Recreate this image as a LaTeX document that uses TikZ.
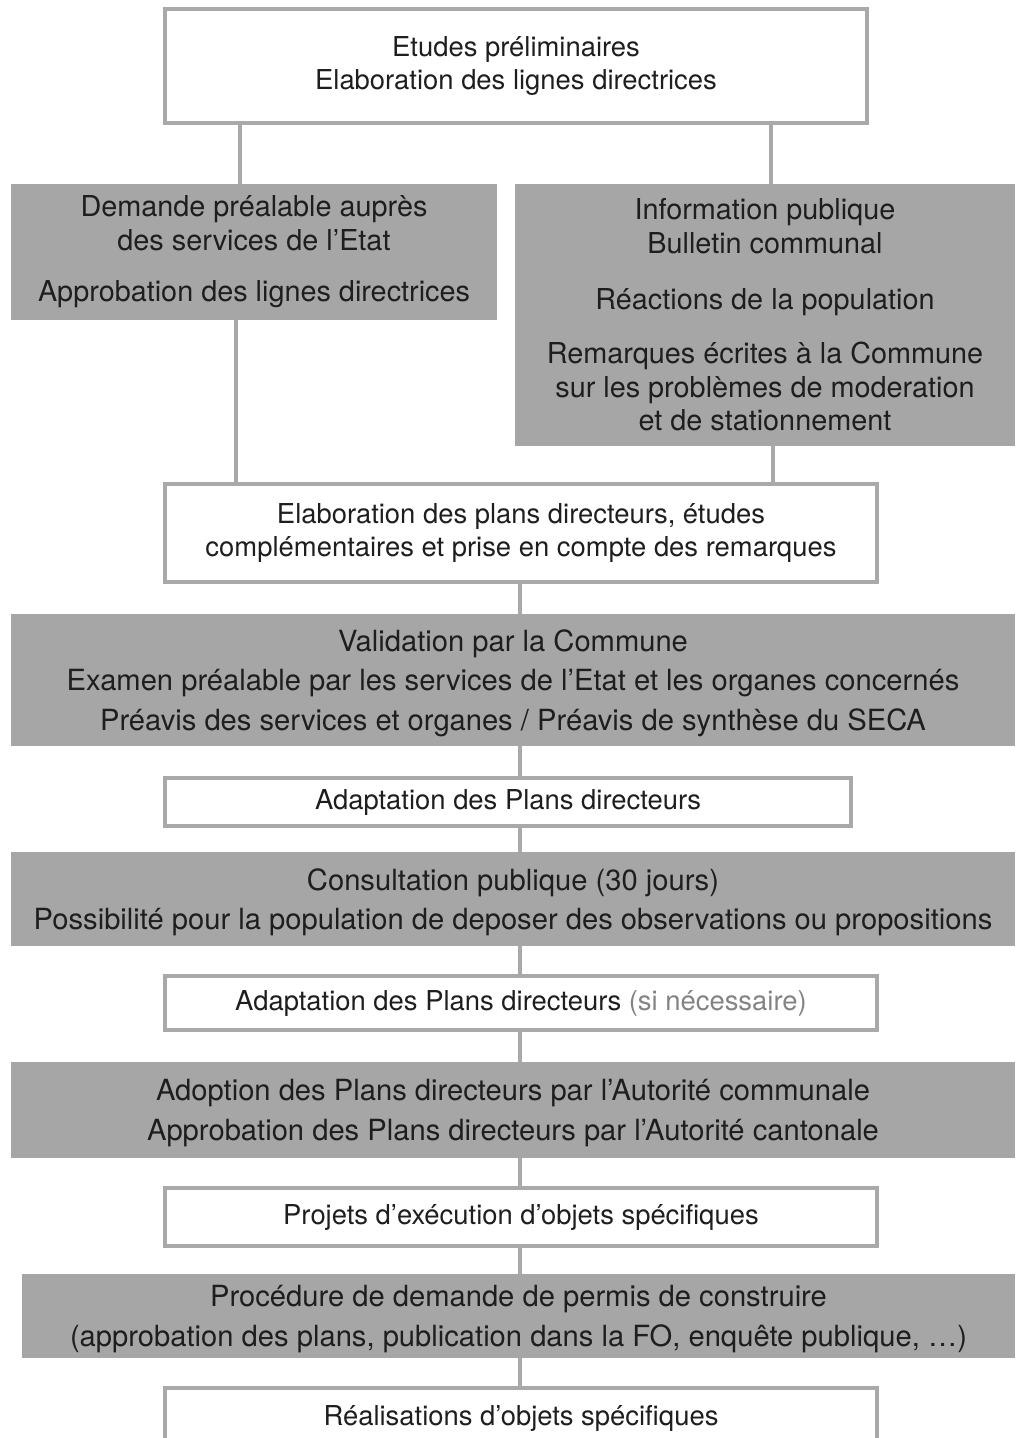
\documentclass[tikz,border=0pt]{standalone}
\usepackage{fontspec}
\setmainfont{TeX Gyre Heros}
\definecolor{boxgray}{HTML}{A6A6A6}
\definecolor{linegray}{HTML}{A9A9A9}
\definecolor{txt}{HTML}{1E1E1E}
\tikzset{
  whitebox/.style={draw=linegray, line width=0.08cm, fill=white, text=txt, align=center, inner sep=0pt, font=\fontsize{15.6}{19}\selectfont},
  graybox/.style={fill=boxgray, text=txt, align=center, inner sep=0pt, font=\fontsize{16.4}{19}\selectfont},
  widebox/.style={graybox, text depth=-0.5pt, font=\fontsize{16.6}{22.6}\selectfont},
  link/.style={draw=linegray, line width=0.08cm}
}
\begin{document}
\begin{tikzpicture}

  \def\d{0.02};
  \useasboundingbox (0,0) rectangle (1015*\d, -1438*\d);

  %top row
  \node[whitebox, minimum width=14.04cm, minimum height=2.28cm] (etudes) at (516*\d, -66*\d)
     {Etudes préliminaires\\Elaboration des lignes directrices};
  \node[graybox, minimum width=9.72cm, minimum height=2.72cm] (demande) at (254*\d, -252*\d)
     {Demande préalable auprès\\des services de l’Etat\\[10.5pt]Approbation des lignes directrices};
  \node[graybox, minimum width=10cm, minimum height=5.24cm] (info) at (765*\d, -315*\d)
     {Information publique\\Bulletin communal\\[13pt]Réactions de la population\\[12pt]Remarques écrites à la Commune\\sur les problèmes de moderation\\et de stationnement};

  %main chain
  \node[whitebox, minimum width=14.24cm, minimum height=1.96cm] (elab) at (521*\d, -533*\d)
     {Elaboration des plans directeurs, études\\complémentaires et prise en compte des remarques};
  \node[widebox, minimum width=20.08cm, minimum height=2.64cm] (valid) at (513*\d, -680*\d)
     {Validation par la Commune\\Examen préalable par les services de l’Etat et les organes concernés\\Préavis des services et organes / Préavis de synthèse du SECA};
  \node[whitebox, minimum width=13.72cm, minimum height=0.96cm] (adapt) at (508*\d, -802*\d)
     {Adaptation des Plans directeurs};
  \node[widebox, minimum width=20.08cm, minimum height=1.88cm] (consult) at (513*\d, -899*\d)
     {Consultation publique (30 jours)\\Possibilité pour la population de deposer des observations ou propositions};
  \node[whitebox, minimum width=14.24cm, minimum height=1.08cm] (adaptb) at (521*\d, -1003*\d)
     {Adaptation des Plans directeurs {\color{txt!55}(si nécessaire)}};
  \node[widebox, minimum width=20.08cm, minimum height=1.92cm] (adopt) at (513*\d, -1110*\d)
     {Adoption des Plans directeurs par l’Autorité communale\\Approbation des Plans directeurs par l’Autorité cantonale};
  \node[whitebox, minimum width=14.24cm, minimum height=1.16cm] (projets) at (521*\d, -1217*\d)
     {Projets d’exécution d’objets spécifiques};
  \node[widebox, minimum width=19.86cm, minimum height=1.68cm] (proced) at (518.5*\d, -1316*\d)
     {Procédure de demande de permis de construire\\(approbation des plans, publication dans la FO, enquête publique, …)};
  \node[whitebox, minimum width=14.24cm, minimum height=1.2cm] (realis) at (521*\d, -1418*\d)
     {Réalisations d’objets spécifiques};

  %links
  \coordinate (la) at (240*\d, 0);
  \coordinate (ra) at (771*\d, 0);
  \coordinate (lb) at (236*\d, 0);
  \coordinate (rb) at (773*\d, 0);
  \coordinate (mid) at (520*\d, 0);

  \draw[link] (etudes.south -| la) -- (demande.north -| la);
  \draw[link] (etudes.south -| ra) -- (info.north -| ra);
  \draw[link] (demande.south -| lb) -- (elab.north -| lb);
  \draw[link] (info.south -| rb) -- (elab.north -| rb);

  \foreach \a/\b in {elab/valid, valid/adapt, adapt/consult, consult/adaptb, adaptb/adopt, adopt/projets, projets/proced, proced/realis}{
    \draw[link] (\a.south -| mid) -- (\b.north -| mid);
  }

\end{tikzpicture}
\end{document}
